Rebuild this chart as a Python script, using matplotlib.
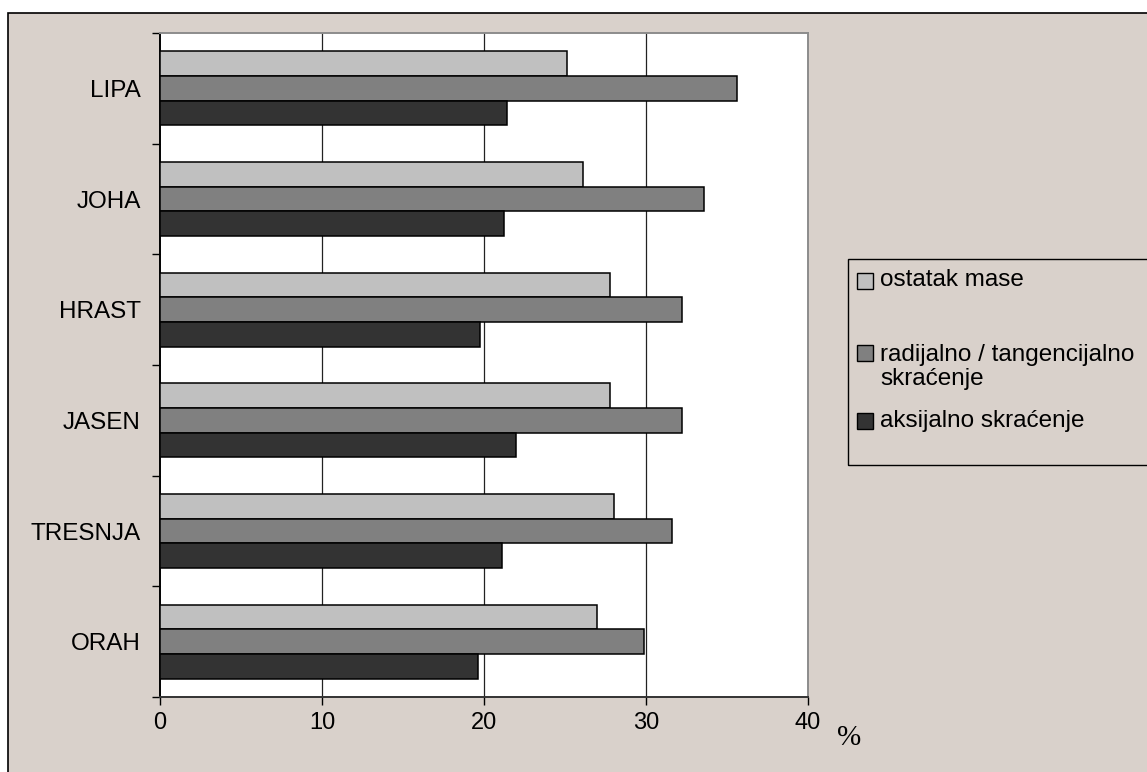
import matplotlib
matplotlib.use('Agg')
import matplotlib.pyplot as plt
from matplotlib.patches import Rectangle
import numpy as np

# data (top to bottom as shown in the chart)
species = ['LIPA', 'JOHA', 'HRAST', 'JASEN', 'TRESNJA', 'ORAH']
ostatak_mase = [25.1, 26.1, 27.8, 27.8, 28.05, 26.95]
radijalno_tang = [35.6, 33.6, 32.25, 32.25, 31.6, 29.9]
aksijalno = [21.4, 21.25, 19.75, 22.0, 21.1, 19.6]
series_names = ['ostatak mase', 'radijalno / tangencijalno\nskraćenje', 'aksijalno skraćenje']
series_colors = ['#c0c0c0', '#808080', '#333333']
x_ticks = [0, 10, 20, 30, 40]

W, H = 1147, 772
plt.rcParams['font.family'] = ['Liberation Sans', 'DejaVu Sans']

fig = plt.figure(figsize=(W / 100, H / 100), dpi=100)
fig.patch.set_facecolor('white')

# grey chart area with black frame on left/top
bg = Rectangle((8 / W, -0.1), 1.2, 1.1 - 13 / H, transform=fig.transFigure,
               facecolor='#d9d1cb', edgecolor='black', linewidth=1.2, zorder=-10)
fig.patches.append(bg)

ax = fig.add_axes([160 / W, 1 - 697 / H, 648 / W, 664 / H])
ax.set_zorder(1)
ax.set_facecolor('white')

n = len(species)
ypos = np.arange(n)[::-1]  # LIPA at top
h = 0.222
for vals, col, off in zip([ostatak_mase, radijalno_tang, aksijalno], series_colors, [h, 0, -h]):
    ax.barh(ypos + off, vals, height=h, color=col, edgecolor='black', linewidth=1.1, zorder=3)

ax.set_xlim(0, 40)
ax.set_ylim(-0.5, n - 0.5)
ax.set_xticks(x_ticks)
ax.set_xticklabels([str(t) for t in x_ticks], fontsize=17)
ax.tick_params(axis='x', direction='out', length=6, width=1, pad=5, color='black')

ax.set_yticks(np.arange(-0.5, n, 1.0))
ax.set_yticklabels([])
ax.tick_params(axis='y', which='major', direction='out', length=6, width=1, color='black')
ax.set_yticks(ypos, minor=True)
ax.set_yticklabels(species, minor=True, fontsize=17.5)
ax.tick_params(axis='y', which='minor', length=0, pad=14)

for xv in x_ticks[1:-1]:
    ax.axvline(xv, color='#222222', linewidth=0.9, zorder=1)

ax.spines['left'].set_color('black')
ax.spines['left'].set_linewidth(1.4)
ax.spines['bottom'].set_color('#333333')
ax.spines['bottom'].set_linewidth(1.4)
ax.spines['top'].set_color('#8c8c8c')
ax.spines['top'].set_linewidth(1.4)
ax.spines['right'].set_color('#8c8c8c')
ax.spines['right'].set_linewidth(1.4)

# % unit label
fig.text(849 / W, 1 - 738 / H, '%', family=['Liberation Serif', 'DejaVu Serif'],
         fontsize=21, ha='center', va='center')

# legend box
leg = Rectangle((848 / W, 1 - 465 / H), 400 / W, 206 / H, transform=fig.transFigure,
                facecolor='none', edgecolor='black', linewidth=1.0, zorder=2)
fig.patches.append(leg)
sq_y = [281, 353, 421]
txt_y = [280, 367, 421]
for name, col, sy, ty in zip(series_names, series_colors, sq_y, txt_y):
    fig.patches.append(Rectangle((857 / W, 1 - (sy + 8) / H), 16 / W, 16 / H,
                                 transform=fig.transFigure, facecolor=col,
                                 edgecolor='black', linewidth=1.0, zorder=3))
    fig.text(880 / W, 1 - ty / H, name, fontsize=17.5, ha='left', va='center',
             linespacing=1.1)

fig.savefig('out.png', dpi=100)
